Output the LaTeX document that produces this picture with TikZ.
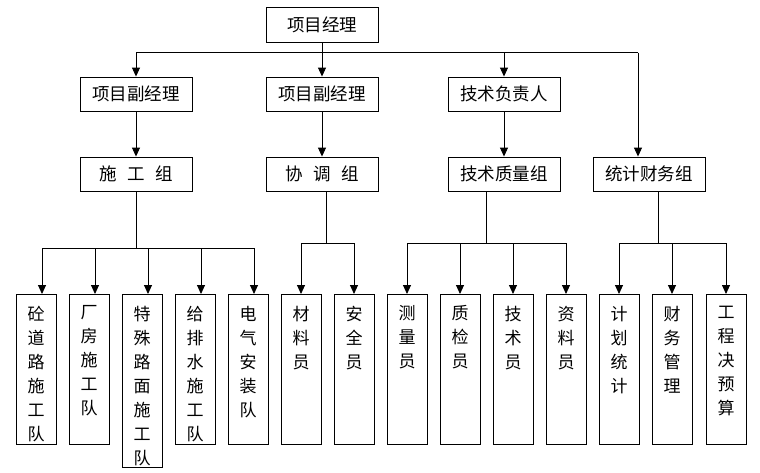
\documentclass[tikz,border=0pt]{standalone}
\usepackage{fontspec}
\newfontfamily\cjk{Noto Sans CJK SC}
\usetikzlibrary{calc,positioning}
\usetikzlibrary{arrows.meta}

\begin{document}
\begin{tikzpicture}[x=1pt, y=-1pt,
			line width=0.9pt,
			box/.style = {draw, minimum width=112, minimum height=34, inner sep=0pt,
				font=\cjk\fontsize{17.5}{20}\selectfont},
			team/.style = {draw, anchor=north, minimum width=40, minimum height=150,
				label={[font=\cjk\fontsize{17}{24}\selectfont, align=center,
					anchor=north, yshift=-8pt]north:#1}},
			arr/.style = {-{Triangle[length=9pt, width=8pt]}},
			]
		
			\useasboundingbox (0,0) rectangle (760,472);
			
			% top
			\node[box, minimum height=35] (pm) at (322,24.5) {项目经理};
			
			\node[box] (vp1) at (136,94) {项目副经理};
			\node[box] (vp2) at (322,94) {项目副经理};
			\node[box] (tl)  at (504,94) {技术负责人};
			
			\node[box] (g1) at (136,174) {施\hspace{0.6em}工\hspace{0.6em}组};
			\node[box] (g2) at (322,174) {协\hspace{0.6em}调\hspace{0.6em}组};
			\node[box] (g3) at (504,174) {技术质量组};
			\node[box] (g4) at (649,174) {统计财务组};
			
			% teams
			\node[team={砼\\道\\路\\施\\工\\队}] (t1) at (36,294) {};
			\node[team={厂\\房\\施\\工\\队}] (t2) at (89,294) {};
			\node[team={特\\殊\\路\\面\\施\\工\\队}, minimum height=173] (t3) at (142,294) {};
			\node[team={给\\排\\水\\施\\工\\队}] (t4) at (195,294) {};
			\node[team={电\\气\\安\\装\\队}] (t5) at (248,294) {};
			
			\node[team={材\\料\\员}] (t6) at (301,294) {};
			\node[team={安\\全\\员}] (t7) at (354,294) {};
			
			\node[team={测\\量\\员}] (t8) at (407,294) {};
			\node[team={质\\检\\员}] (t9) at (460,294) {};
			\node[team={技\\术\\员}] (t10) at (513,294) {};
			\node[team={资\\料\\员}] (t11) at (566,294) {};
			
			\node[team={计\\划\\统\\计}] (t12) at (619,294) {};
			\node[team={财\\务\\管\\理}] (t13) at (672,294) {};
			\node[team={工\\程\\决\\预\\算}] (t14) at (726,294) {};
			
			% top bus
			\draw (pm.south) -- ++(0,11);
			\draw ($(vp1.north)+(0,-24)$) -- ($(g4.north)+(-11,-104)$);
			\foreach \n in {vp1,vp2,tl}
			\draw[arr] ($(\n.north)+(0,-24)$) -- (\n.north);
			\draw[arr] ($(g4.north)+(-11,-104)$) -- ($(g4.north)+(-11,0)$);
			
			\draw[arr] (vp1) -- (g1);
			\draw[arr] (vp2) -- (g2);
			\draw[arr] (tl) -- (g3);
			
			% 施工组
			\draw (g1.south) -- ++(0,57);
			\draw ($(t1.north)+(6,-46)$) -- ($(t5.north)+(6,-46)$);
			\foreach \t in {t1,t2,t3,t4,t5}
			\draw[arr] ($(\t.north)+(6,-46)$) -- ($(\t.north)+(6,0)$);
			
			% 协调组
			\draw ($(g2.south)+(4,0)$) -- ++(0,52);
			\draw ($(t6.north)+(0,-51)$) -- ($(t7.north)+(0,-51)$);
			\foreach \t in {t6,t7}
			\draw[arr] ($(\t.north)+(0,-51)$) -- (\t.north);
			
			% 技术质量组
			\draw ($(g3.south)+(-18,0)$) -- ++(0,52);
			\draw ($(t8.north)+(0,-51)$) -- ($(t11.north)+(0,-51)$);
			\foreach \t in {t8,t9,t10,t11}
			\draw[arr] ($(\t.north)+(0,-51)$) -- (\t.north);
			
			% 统计财务组
			\draw ($(g4.south)+(9,0)$) -- ++(0,52);
			\draw ($(t12.north)+(0,-51)$) -- ($(t14.north)+(0,-51)$);
			\foreach \t in {t12,t13,t14}
			\draw[arr] ($(\t.north)+(0,-51)$) -- (\t.north);
			
\end{tikzpicture}
\end{document}
